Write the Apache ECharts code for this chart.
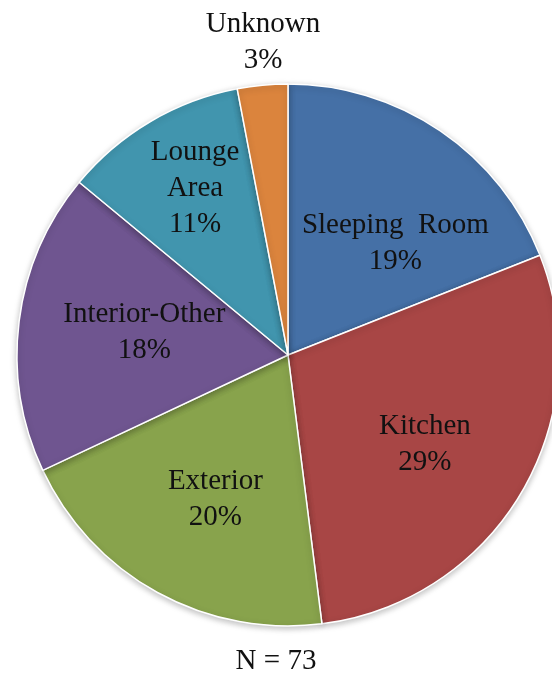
<!DOCTYPE html>
<html>
<head>
<meta charset="utf-8">
<script src="https://cdn.jsdelivr.net/npm/echarts@6/dist/echarts.min.js"></script>
<style>
  html, body { margin: 0; padding: 0; background: #fff; }
  #chart { width: 552px; height: 680px; }
</style>
</head>
<body>
<div id="chart"></div>
<script>
// Location categories, clockwise from 12 o'clock
const categories = ['Sleeping  Room', 'Kitchen', 'Exterior', 'Interior-Other', 'Lounge\nArea', 'Unknown'];
const percents = [19, 29, 20, 18, 11, 3];
const sampleSize = 73;
const colors = ['#4570A6', '#A84645', '#88A34C', '#6F5590', '#4195AE', '#DB843D'];

const chart = echarts.init(document.getElementById('chart'));
const font = '"Liberation Serif", "Times New Roman", serif';

// small label nudges, the original tool spreads labels a bit
const labelNudge = [[18, 20], [0, 8], [4, 5], [14, -3], [-12, -30], [5, 5]];

const labelStyle = {
  show: true,
  position: 'inside',
  fontFamily: font,
  fontSize: 29,
  lineHeight: 36,
  color: '#111',
  align: 'center'
};

const makeData = showIdx => categories.map((name, i) => ({
  name,
  value: percents[i],
  label: Object.assign({}, labelStyle, {
    show: showIdx(i),
    offset: labelNudge[i],
    formatter: p => p.name + '\n' + p.value + '%'
  })
}));

const base = {
  type: 'pie',
  center: [288, 355],
  startAngle: 90,
  clockwise: true,
  animation: false,
  avoidLabelOverlap: false,
  labelLine: { show: false }
};
const last = categories.length - 1;

chart.setOption({
  color: colors,
  title: {
    text: 'N = ' + sampleSize,
    left: 'center',
    top: 642,
    textStyle: { fontFamily: font, fontSize: 29, fontWeight: 'normal', color: '#111' }
  },
  series: [
    // visible slices
    Object.assign({}, base, {
      radius: [0, 271],
      label: { show: false },
      itemStyle: {
        borderColor: '#fff',
        borderWidth: 1.5,
        shadowBlur: 6,
        shadowOffsetY: 2,
        shadowColor: 'rgba(0,0,0,0.25)'
      },
      data: categories.map((name, i) => ({ name, value: percents[i] }))
    }),
    // inside labels (invisible ring pushes the label radius outwards)
    Object.assign({}, base, {
      radius: [0, 312],
      silent: true,
      itemStyle: { color: 'transparent' },
      data: makeData(i => i !== last)
    }),
    // small slice label above the pie
    Object.assign({}, base, {
      radius: [0, 632],
      silent: true,
      itemStyle: { color: 'transparent' },
      data: makeData(i => i === last)
    })
  ]
});
</script>
</body>
</html>
